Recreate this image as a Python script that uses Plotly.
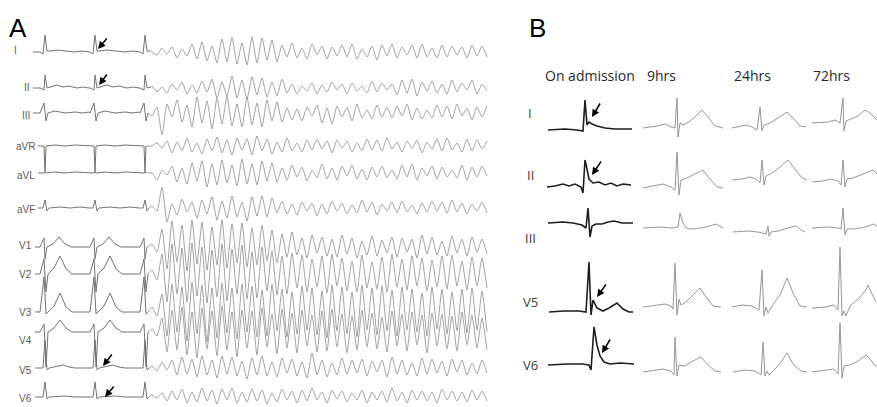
import plotly.graph_objects as go

W, H = 877, 407

# ---------------- Panel A : 12-lead strip (sinus beats then VF) ----------------
leads_A = ["I", "II", "III", "aVR", "aVL", "aVF", "V1", "V2", "V3", "V4", "V5", "V6"]
baseline_A = [52, 88, 113, 146, 173, 208, 247, 274, 312, 332, 368, 397]
label_y_A = [50, 87, 115, 146, 175, 209, 245, 274, 312, 340, 370, 398]
trace_start_A = [33, 33, 33, 38, 38, 38, 35, 35, 35, 35, 35, 35]
qrs_times_A = [45, 95, 145]
vf_start_A = 152
vf_step_A = 5

# one sinus beat per lead: (time offset from QRS, amplitude up)
beat_A = {
    "I":   [(-5, 0), (-2, -2), (0, 17), (2, 1), (5, 1), (12, 2), (20, 1), (30, 0), (38, 1), (44, 0)],
    "II":  [(-5, 0), (-1, -2), (0, 13), (2, 0), (6, 1), (12, 3), (18, 1), (24, 2), (32, 0), (38, 1), (44, 0)],
    "III": [(-5, 0), (-1, 10), (1, -8), (3, 0), (10, 2), (20, 0), (30, 1), (38, 0), (44, 1)],
    "aVR": [(-5, 0), (-1, 0), (0, -27), (1, 0), (10, 1), (20, 0), (30, 1), (44, 0)],
    "aVL": [(-5, 0), (-1, 0), (0, 1), (1, 0), (10, 1), (20, 0), (30, 1), (44, 0)],
    "aVF": [(-5, 0), (-2, 0), (0, 8), (2, -3), (4, 0), (15, 1), (25, 0), (35, 1), (44, 0)],
    "V1":  [(-5, 0), (-1, 9), (0, -12), (2, 0), (8, 3), (14, 10), (20, 3), (26, 0), (44, 0)],
    "V2":  [(-5, 0), (-1, 15), (1, -18), (3, 0), (9, 6), (15, 18), (21, 5), (27, 0), (44, 0)],
    "V3":  [(-5, 0), (-1, 35), (1, -2), (3, 0), (9, 6), (15, 19), (21, 5), (27, 0), (44, 0)],
    "V4":  [(-5, 0), (-1, 8), (1, -35), (3, 0), (9, 4), (15, 12), (21, 4), (27, 0), (44, 0)],
    "V5":  [(-5, 0), (-2, 0), (0, 28), (2, -2), (4, 0), (12, 2), (18, 3), (24, 1), (30, 0), (44, 0)],
    "V6":  [(-5, 0), (-2, 0), (0, 15), (2, -2), (4, 0), (14, 1), (20, 1), (30, 0), (44, 0)],
}

# ventricular fibrillation extrema per lead (amplitude up)
vf_A = {
    "I":   [0,-3,4,-2,5,-6,3,-4,8,-7,10,-9,6,-11,13,-10,15,-12,9,-13,15,-11,14,-8,12,-10,7,-5,9,-6,4,-7,8,-3,6,-7,5,-4,7,-5,8,-7,3,-5,6,-8,7,-4,8,-6,5,-3,7,-6,8,-5,4,-6,7,-5,6,-3,5,-6,7,-4,6,-5],
    "II":  [2,-4,1,-5,4,-2,6,-6,3,-5,7,-4,9,-10,6,-8,12,-10,8,-11,11,-7,10,-9,6,-8,9,-5,4,-6,2,-3,5,-6,3,-4,6,-2,4,-6,5,-3,2,-5,7,-4,5,-2,4,-7,8,-5,9,-8,6,-3,7,-5,4,-6,8,-4,5,-2,8,-6,4,-3],
    "III": [-3,6,-22,9,-4,13,-9,8,-14,16,-10,12,-16,15,-11,17,-13,9,-14,16,-12,10,-14,13,-8,11,-9,5,-7,4,-8,6,-3,8,-10,5,-11,7,-4,6,-8,9,-5,3,-6,8,-4,6,-5,7,-3,9,-7,5,-6,3,-5,8,-4,7,-6,9,-3,5,-7,6,-4,7],
    "aVR": [0,3,-2,5,-7,4,-5,8,-6,3,-8,7,-5,9,-7,6,-9,8,-4,7,-9,10,-5,7,-8,4,-6,8,-5,3,-6,6,-4,7,-3,5,-7,6,-2,5,-6,3,-5,7,-4,6,-5,8,-3,4,-6,5,-2,6,-7,4,-3,7,-5,8,-4,3,-6,7,-5,6,-3,5],
    "aVL": [0,-7,3,-2,7,-9,5,-11,10,-8,12,-14,9,-12,13,-10,8,-13,14,-11,9,-12,12,-8,10,-9,5,-7,8,-4,6,-8,3,-5,9,-6,5,-7,7,-3,8,-6,4,-7,6,-4,7,-5,3,-6,8,-4,9,-7,5,-3,7,-6,6,-4,3,-5,8,-7,6,-4,7,-3],
    "aVF": [2,-3,21,-14,4,-7,9,-4,6,-10,8,-6,11,-12,7,-10,12,-9,6,-13,11,-8,12,-9,10,-5,7,-6,4,-7,6,-3,5,-8,4,-6,7,-3,5,-6,3,-5,8,-4,6,-7,4,-3,6,-5,7,-4,3,-6,5,-4,7,-3,6,-5,8,-4,5,-6,4,-3,6,-5],
    "V1":  [3,-5,18,-22,26,-15,22,-24,27,-17,25,-23,20,-18,27,-21,23,-16,24,-20,19,-18,22,-14,17,-16,13,-10,15,-8,9,-11,12,-6,10,-9,8,-10,12,-7,9,-11,6,-8,11,-9,7,-6,10,-10,9,-5,8,-11,12,-7,10,-8,6,-9,11,-6,8,-9,10,-5,8,-7],
    "V2":  [4,-6,20,-28,30,-20,26,-28,31,-22,27,-29,24,-23,30,-27,25,-20,29,-25,22,-24,27,-17,23,-21,18,-20,21,-14,19,-18,15,-13,18,-19,20,-12,16,-17,13,-18,19,-14,12,-15,17,-18,20,-13,15,-16,18,-12,16,-17,14,-13,18,-15,19,-12,13,-16,17,-12,16,-14],
    "V3":  [5,-4,18,-24,28,-20,25,-29,30,-22,27,-30,24,-26,29,-21,24,-27,28,-20,26,-25,22,-24,28,-19,23,-25,20,-22,26,-18,24,-23,21,-26,27,-19,25,-22,20,-25,27,-18,24,-23,26,-19,22,-24,25,-18,23,-20,19,-24,25,-17,23,-22,20,-19,23,-21,24,-18,21,-20],
    "V4":  [3,-4,14,-20,22,-18,25,-23,20,-26,24,-17,21,-24,26,-18,20,-25,22,-16,21,-23,24,-15,18,-22,23,-16,19,-21,22,-14,17,-20,21,-19,23,-15,18,-21,16,-18,22,-15,19,-17,15,-20,21,-14,18,-19,20,-13,17,-21,19,-14,18,-17,16,-19,20,-13,17,-16,14,-18],
    "V5":  [2,-3,6,-2,8,-7,11,-6,9,-9,12,-7,8,-10,12,-6,11,-8,7,-11,10,-7,12,-8,6,-9,10,-5,9,-8,6,-10,15,-7,8,-9,5,-7,10,-6,8,-5,9,-8,7,-4,8,-9,11,-6,8,-7,5,-8,10,-6,9,-5,7,-8,9,-4,8,-7,5,-6,8,-5],
    "V6":  [2,-1,4,-4,6,-3,8,-6,5,-5,9,-4,7,-7,8,-3,9,-6,5,-5,8,-4,7,-7,4,-5,8,-3,6,-6,7,-4,9,-3,5,-6,7,-2,6,-5,4,-3,7,-6,5,-3,6,-5,9,-4,5,-6,7,-3,6,-4,5,-6,8,-3,6,-4,5,-5,7,-3,6,-4],
}

# ---------------- Panel B : single beats over time ----------------
rows_B = ["I", "II", "III", "V5", "V6"]
cols_B = ["On admission", "9hrs", "24hrs", "72hrs"]
row_label_y_B = [113, 175, 238, 302, 365]
col_header_x_B = [543, 645, 732, 811]
baseline_B = [[130, 128, 128, 123], [187, 188, 180, 182], [223, 228, 232, 228],
              [312, 307, 307, 308], [365, 372, 372, 372]]
qrs_B = [[585, 677, 760, 843], [585, 677, 762, 843], [588, 680, 768, 843],
         [589, 675, 762, 840], [592, 675, 763, 840]]

beat_B = {
    ("I", 0): [(-37,0),(-20,1),(-8,0),(-2,-1),(0,30),(2,5),(4,8),(7,6),(12,4),(20,2),(30,1),(47,1)],
    ("I", 1): [(-34,0),(-20,2),(-12,4),(-6,1),(-2,0),(0,30),(1,-9),(3,5),(6,3),(12,6),(20,13),(25,18),(30,12),(38,2),(46,0)],
    ("I", 2): [(-28,0),(-20,2),(-14,3),(-8,1),(-3,-2),(0,21),(2,-3),(4,3),(10,5),(18,10),(27,16),(33,10),(40,2),(46,1)],
    ("I", 3): [(-31,0),(-15,1),(-8,3),(-3,0),(0,25),(1,-8),(3,2),(8,4),(15,7),(22,13),(27,10),(34,3)],
    ("II", 0): [(-38,0),(-30,1),(-22,3),(-16,1),(-10,3),(-4,0),(-2,-6),(0,27),(2,18),(4,8),(8,4),(14,5),(20,2),(26,4),(32,1),(38,3),(46,2)],
    ("II", 1): [(-34,0),(-24,2),(-14,4),(-6,1),(-2,-2),(0,36),(2,-7),(4,8),(10,10),(18,14),(26,18),(32,10),(40,1),(46,0)],
    ("II", 2): [(-30,0),(-20,1),(-12,3),(-6,1),(-2,-3),(0,20),(2,-5),(4,4),(10,7),(18,13),(26,20),(32,12),(40,2),(45,0)],
    ("II", 3): [(-31,0),(-20,1),(-12,3),(-5,1),(-2,-3),(0,22),(2,-5),(4,3),(10,4),(18,7),(26,10),(30,12),(34,8)],
    ("III", 0): [(-40,0),(-25,1),(-15,0),(-6,-2),(-2,-5),(0,15),(2,-14),(4,-3),(8,-1),(14,-1),(20,1),(26,2),(34,0),(45,0)],
    ("III", 1): [(-37,0),(-20,1),(-8,0),(-2,1),(0,15),(3,5),(6,0),(12,-1),(20,0),(30,2),(36,4),(43,0)],
    ("III", 2): [(-35,0),(-20,1),(-10,0),(-2,-2),(0,6),(1,-4),(3,0),(10,1),(20,4),(28,6),(33,2),(37,0)],
    ("III", 3): [(-31,0),(-15,1),(-5,0),(-2,-1),(0,20),(2,-7),(4,-1),(10,-1),(18,0),(26,2),(30,4),(34,2)],
    ("V5", 0): [(-40,0),(-25,1),(-10,1),(-3,0),(0,50),(2,-3),(4,12),(8,4),(14,1),(20,4),(28,9),(34,3),(40,0),(44,0)],
    ("V5", 1): [(-32,0),(-20,2),(-10,3),(-4,1),(-2,-2),(0,44),(2,-8),(4,8),(6,2),(12,6),(18,12),(25,19),(31,10),(38,1),(46,0)],
    ("V5", 2): [(-30,0),(-20,2),(-10,1),(-3,-3),(0,37),(2,-9),(4,0),(6,-6),(12,4),(18,12),(25,29),(31,14),(38,1),(45,0)],
    ("V5", 3): [(-28,0),(-15,1),(-6,3),(-2,-2),(0,61),(2,-8),(4,-3),(6,-8),(10,2),(18,9),(26,18),(28,23),(32,14),(36,6)],
    ("V6", 0): [(-44,0),(-25,1),(-10,1),(-3,0),(-1,-5),(2,38),(5,20),(8,9),(12,3),(18,1),(28,2),(40,1),(42,1)],
    ("V6", 1): [(-32,0),(-20,2),(-12,3),(-4,1),(-1,-3),(0,35),(2,-4),(4,7),(10,6),(18,11),(26,15),(32,8),(40,1),(46,0)],
    ("V6", 2): [(-30,0),(-18,2),(-8,1),(-2,-3),(0,30),(2,-4),(4,1),(6,-3),(12,3),(18,10),(24,19),(30,8),(38,1),(44,0)],
    ("V6", 3): [(-28,0),(-15,2),(-6,3),(-2,-2),(0,49),(2,-6),(4,6),(10,7),(18,11),(26,17),(30,13),(36,5)],
}

# arrows: (tail x, tail y, head x, head y)
arrows = [(108, 37, 98, 49), (108, 73, 99, 85), (113, 353, 103, 366), (115, 385, 105, 397),
          (601, 102, 592, 117), (602, 160, 592, 175), (607, 283, 597, 297), (611, 338, 602, 353)]

fig = go.Figure()

# Panel A traces: sinus part (darker) and VF part (lighter, smoothed)
for i, lead in enumerate(leads_A):
    b = baseline_A[i]
    xs, ys = [trace_start_A[i]], [b]
    for k, q in enumerate(qrs_times_A):
        for dx, a in beat_A[lead]:
            if k == len(qrs_times_A) - 1 and dx > 6:
                break
            x = q + dx
            if x <= xs[-1]:
                continue
            xs.append(x)
            ys.append(b - a)
    vx = [xs[-1]] + [vf_start_A + vf_step_A * j for j in range(len(vf_A[lead]))]
    vy = [ys[-1]] + [b - a for a in vf_A[lead]]
    fig.add_trace(go.Scatter(x=xs, y=ys, mode="lines", hoverinfo="skip",
                             line=dict(color="rgb(115,115,115)", width=1)))
    fig.add_trace(go.Scatter(x=vx, y=vy, mode="lines", hoverinfo="skip",
                             line=dict(color="rgba(140,140,140,0.8)", width=1,
                                       shape="spline", smoothing=0.5)))

# Panel B traces
for r, row in enumerate(rows_B):
    for c in range(len(cols_B)):
        b = baseline_B[r][c]
        q = qrs_B[r][c]
        pts = beat_B[(row, c)]
        col = "rgb(30,30,30)" if c == 0 else "rgb(150,150,150)"
        wid = 1.6 if c == 0 else 1.0
        fig.add_trace(go.Scatter(x=[q + dx for dx, _ in pts], y=[b - a for _, a in pts],
                                 mode="lines", hoverinfo="skip",
                                 line=dict(color=col, width=wid)))

ann = []
# panel letters
ann.append(dict(x=7, y=28, text="A", showarrow=False, xanchor="left", yanchor="middle",
                font=dict(family="Liberation Sans", size=26, color="black")))
ann.append(dict(x=527, y=28, text="B", showarrow=False, xanchor="left", yanchor="middle",
                font=dict(family="Liberation Sans", size=26, color="black")))
# lead labels A
for i, lead in enumerate(leads_A):
    ann.append(dict(x=trace_start_A[i] - 1 if len(lead) > 1 else 19, y=label_y_A[i], text=lead,
                    showarrow=False, xanchor="right", yanchor="middle",
                    font=dict(family="Liberation Sans", size=10, color="rgb(90,90,90)")))
# column headers B
for c, name in enumerate(cols_B):
    ann.append(dict(x=col_header_x_B[c], y=75, text=name, showarrow=False, xanchor="left",
                    yanchor="middle", font=dict(family="Open Sans", size=14, color="rgb(40,40,40)")))
# row labels B
for r, row in enumerate(rows_B):
    ann.append(dict(x=530, y=row_label_y_B[r], text=row, showarrow=False, xanchor="center",
                    yanchor="middle", font=dict(family="Open Sans", size=13, color="rgb(60,60,60)")))
# arrows
for tx, ty, hx, hy in arrows:
    ann.append(dict(x=hx, y=hy, ax=tx, ay=ty, xref="x", yref="y", axref="x", ayref="y",
                    text="", showarrow=True, arrowhead=2, arrowsize=1, arrowwidth=1.5,
                    arrowcolor="black"))

fig.update_layout(
    width=W, height=H, margin=dict(l=0, r=0, t=0, b=0),
    paper_bgcolor="white", plot_bgcolor="white", showlegend=False,
    xaxis=dict(range=[0, W], visible=False, fixedrange=True),
    yaxis=dict(range=[H, 0], visible=False, fixedrange=True),
    annotations=ann,
)

fig.write_html("out.html", config={"displayModeBar": False},
               post_script="document.body.style.margin='0px';document.body.style.overflow='hidden';")
